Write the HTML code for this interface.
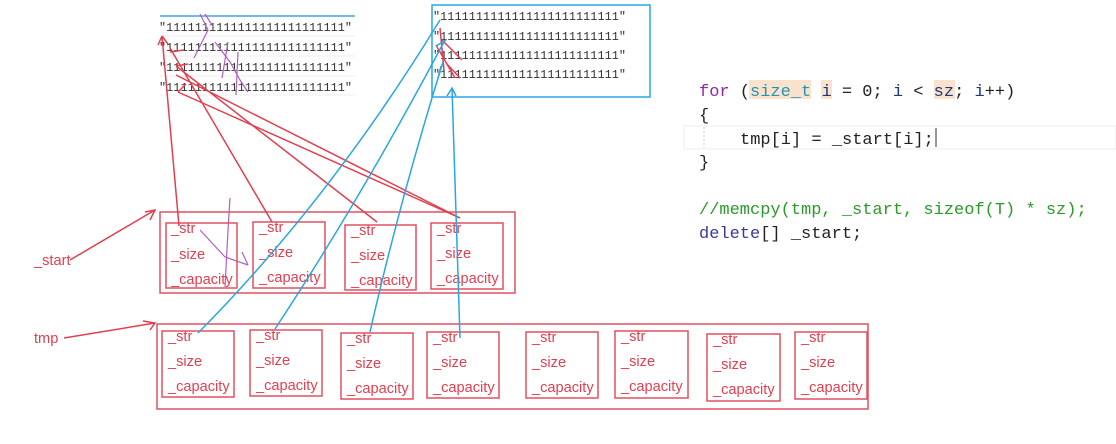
<!DOCTYPE html>
<html><head><meta charset="utf-8"><style>
html,body{margin:0;padding:0;background:#fff;}
svg{display:block}
.s{font-family:"Liberation Mono",monospace;font-size:11.8px;fill:#333}
.r{font-family:"Liberation Sans",sans-serif;font-size:14.6px;fill:#e04050}
.c{font-family:"Liberation Mono",monospace;font-size:17px;fill:#222}
</style></head><body>
<svg width="1116" height="444" viewBox="0 0 1116 444" xmlns="http://www.w3.org/2000/svg">
<line x1="160" y1="16" x2="355" y2="16" stroke="#4a9ee0" stroke-width="1.5"/>
<g stroke="#eee"><line x1="160" y1="36" x2="355" y2="36"/><line x1="160" y1="56" x2="355" y2="56"/><line x1="160" y1="76" x2="355" y2="76"/><line x1="160" y1="95" x2="355" y2="95"/></g>
<text class="s" x="159" y="31" textLength="193">"1111111111111111111111111"</text>
<text class="s" x="159" y="51" textLength="193">"1111111111111111111111111"</text>
<text class="s" x="159" y="71" textLength="193">"1111111111111111111111111"</text>
<text class="s" x="159" y="91" textLength="193">"1111111111111111111111111"</text>
<rect x="432" y="5" width="218" height="92" fill="none" stroke="#2aa6e0" stroke-width="1.5"/>
<text class="s" x="433" y="20" textLength="193">"1111111111111111111111111"</text>
<text class="s" x="433" y="40" textLength="193">"1111111111111111111111111"</text>
<text class="s" x="433" y="59" textLength="193">"1111111111111111111111111"</text>
<text class="s" x="433" y="78" textLength="193">"1111111111111111111111111"</text>
<g stroke="#b060c0" fill="none" stroke-width="1.2">
<path d="M200 14 L208 30 L194 58 M205 14 L214 28"/>
<path d="M215 42 L230 62 L240 80 L248 92 M228 42 L222 78 M238 52 L236 95"/>
<path d="M230 198 L228 230 L225 287"/>
<path d="M200 230 L225 257 L248 265 M242 252 L248 265"/>
</g>
<rect x="160" y="212" width="355" height="81" fill="none" stroke="#e05060" stroke-width="1.5"/>
<g fill="none" stroke="#e05060" stroke-width="1.5">
<rect x="166" y="223" width="71" height="65"/><rect x="253" y="222" width="72" height="66"/>
<rect x="345" y="225" width="71" height="65"/><rect x="431" y="223" width="72" height="66"/>
</g>
<g>
<text class="r" x="171" y="233">_str</text><text class="r" x="171" y="259">_size</text><text class="r" x="171" y="284">_capacity</text>
<text class="r" x="259" y="232">_str</text><text class="r" x="259" y="257">_size</text><text class="r" x="259" y="282">_capacity</text>
<text class="r" x="351" y="235">_str</text><text class="r" x="351" y="260">_size</text><text class="r" x="351" y="285">_capacity</text>
<text class="r" x="437" y="233">_str</text><text class="r" x="437" y="258">_size</text><text class="r" x="437" y="283">_capacity</text>
</g>
<rect x="157" y="324" width="711" height="85" fill="none" stroke="#e05060" stroke-width="1.5"/>
<g fill="none" stroke="#e05060" stroke-width="1.5">
<rect x="162" y="331" width="72" height="66"/><rect x="250" y="330" width="72" height="66"/>
<rect x="341" y="333" width="72" height="66"/><rect x="427" y="332" width="72" height="66"/>
<rect x="526" y="332" width="72" height="66"/><rect x="615" y="331" width="73" height="67"/>
<rect x="707" y="334" width="73" height="67"/><rect x="795" y="332" width="72" height="67"/>
</g>
<g>
<text class="r" x="168" y="341">_str</text><text class="r" x="168" y="366">_size</text><text class="r" x="168" y="391">_capacity</text>
<text class="r" x="256" y="340">_str</text><text class="r" x="256" y="365">_size</text><text class="r" x="256" y="390">_capacity</text>
<text class="r" x="347" y="343">_str</text><text class="r" x="347" y="368">_size</text><text class="r" x="347" y="393">_capacity</text>
<text class="r" x="433" y="342">_str</text><text class="r" x="433" y="367">_size</text><text class="r" x="433" y="392">_capacity</text>
<text class="r" x="532" y="342">_str</text><text class="r" x="532" y="367">_size</text><text class="r" x="532" y="392">_capacity</text>
<text class="r" x="621" y="341">_str</text><text class="r" x="621" y="366">_size</text><text class="r" x="621" y="391">_capacity</text>
<text class="r" x="713" y="344">_str</text><text class="r" x="713" y="369">_size</text><text class="r" x="713" y="394">_capacity</text>
<text class="r" x="801" y="342">_str</text><text class="r" x="801" y="367">_size</text><text class="r" x="801" y="392">_capacity</text>
</g>
<text class="r" x="34" y="265">_start</text>
<text class="r" x="34" y="343">tmp</text>
<g stroke="#e04050" stroke-width="1.5" fill="none">
<path d="M70 260 L155 210 M145 212 L155 210 L150 220"/>
<path d="M64 338 L155 323 M143 321 L155 323 L150 330"/>
<path d="M179 226 L162 36 M162 36 L158 45 M162 36 L168 44"/>
<path d="M272 222 L170 48 M170 52 L184 50"/>
<path d="M377 222 L176 66 M176 66 L188 64"/>
<path d="M460 218 L178 92 M178 92 L186 84"/>
<path d="M460 218 L176 75"/>
<path d="M440 28 L444 70 M442 40 L462 60 M436 45 L455 78 M446 63 L460 78"/>
</g>
<g stroke="#2aa6e0" stroke-width="1.5" fill="none">
<path d="M198 333 Q330 200 440 20"/>
<path d="M275 329 Q360 200 445 40"/>
<path d="M370 332 Q400 200 443 62"/>
<path d="M460 338 L452 88 M447 96 L452 88 L456 96"/>
<path d="M436 46 L446 40 M438 78 L441 66"/>
</g>
<rect x="684" y="126" width="432" height="23" fill="none" stroke="#eee"/>
<line x1="704" y1="127" x2="704" y2="148" stroke="#ccc" stroke-dasharray="2,2"/>
<rect x="749" y="80" width="62" height="19" fill="#fae3cc"/><rect x="821" y="80" width="11" height="19" fill="#fae3cc"/><rect x="934" y="80" width="21" height="19" fill="#fae3cc"/>
<text class="c" x="699" y="96"><tspan fill="#8a2bae">for</tspan> (<tspan fill="#2b91af">size_t</tspan> <tspan fill="#1f377f">i</tspan> = 0; <tspan fill="#1f377f">i</tspan> &lt; <tspan fill="#1f377f">sz</tspan>; <tspan fill="#1f377f">i</tspan>++)</text>
<text class="c" x="699" y="120">{</text>
<text class="c" x="740" y="144">tmp[i] = _start[i];</text>
<line x1="936" y1="128" x2="936" y2="147" stroke="#333"/>
<text class="c" x="699" y="167">}</text>
<text class="c" x="699" y="214" style="fill:#2a9a2a">//memcpy(tmp, _start, sizeof(T) * sz);</text>
<text class="c" x="699" y="238"><tspan fill="#3a3a9a">delete</tspan>[] _start;</text>
</svg>
</body></html>
